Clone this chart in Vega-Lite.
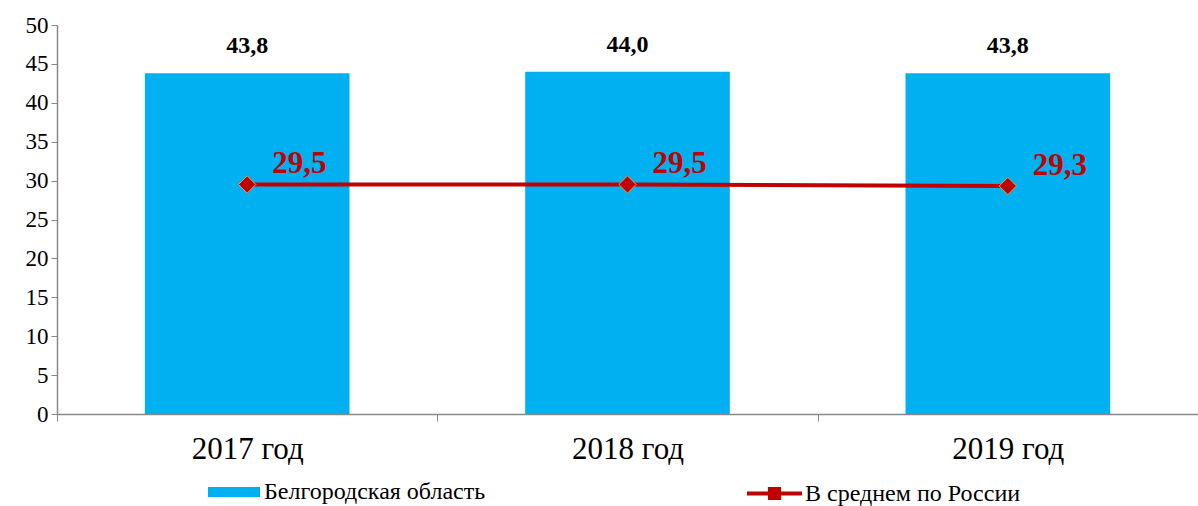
{
  "$schema": "https://vega.github.io/schema/vega-lite/v6.json",
  "width": 1141,
  "height": 389,
  "autosize": {"type": "none"},
  "padding": {"left": 57, "top": 25, "right": 0, "bottom": 92},
  "config": {
    "view": {"stroke": null},
    "font": "Liberation Serif",
    "axisY": {
      "grid": false, "labelOverlap": false, "labelFontSize": 23, "labelColor": "#000", "labelFont": "Liberation Serif",
      "tickSize": 6, "tickColor": "#888", "domainColor": "#888", "domainWidth": 1.5, "labelPadding": 3, "title": null
    },
    "locale": {"number": {"decimal": ",", "thousands": " ", "grouping": [3], "currency": ["", " ₽"]}}
  },
  "data": {
    "values": [
      {"year": "2017 год", "belgorod": 43.8, "russia": 29.5},
      {"year": "2018 год", "belgorod": 44.0, "russia": 29.5},
      {"year": "2019 год", "belgorod": 43.8, "russia": 29.3}
    ]
  },
  "encoding": {
    "x": {
      "field": "year", "type": "nominal", "title": null,
      "scale": {"paddingInner": 0.462, "paddingOuter": 0.231},
      "axis": {
        "labelAngle": 0, "labelFontSize": 31, "labelColor": "#000", "labelFont": "Liberation Serif",
        "labelPadding": 13, "tickOffset": -190.17, "labelOffset": 190.17, "tickSize": 7, "tickColor": "#888",
        "domainColor": "#888", "domainWidth": 1.5
      }
    }
  },
  "layer": [
    {
      "mark": {"type": "bar"},
      "encoding": {
        "y": {
          "field": "belgorod", "type": "quantitative", "title": null,
          "scale": {"domain": [0, 50]},
          "axis": {"values": [0, 5, 10, 15, 20, 25, 30, 35, 40, 45, 50]}
        },
        "fill": {
          "datum": "Белгородская область", "type": "nominal",
          "scale": {"range": ["#00B0F0"]},
          "legend": {
            "title": null, "orient": "none", "legendX": 151, "legendY": 441,
            "symbolType": "M-1,-0.19H1V0.19H-1Z", "symbolSize": 2704,
            "symbolStrokeWidth": 0, "labelFontSize": 24, "labelFont": "Liberation Serif",
            "labelColor": "#000", "labelOffset": 4, "labelLimit": 400
          }
        }
      }
    },
    {
      "mark": {"type": "text", "dy": -27, "fontSize": 24, "fontWeight": "bold", "color": "#000", "font": "Liberation Serif"},
      "encoding": {
        "y": {"field": "belgorod", "type": "quantitative", "title": null, "scale": {"domain": [0, 50]}, "axis": {"values": [0, 5, 10, 15, 20, 25, 30, 35, 40, 45, 50]}},
        "text": {"field": "belgorod", "type": "quantitative", "format": ".1f"}
      }
    },
    {
      "mark": {"type": "line", "strokeWidth": 4},
      "encoding": {
        "y": {"field": "russia", "type": "quantitative", "title": null, "scale": {"domain": [0, 50]}, "axis": {"values": [0, 5, 10, 15, 20, 25, 30, 35, 40, 45, 50]}},
        "stroke": {
          "datum": "В среднем по России", "type": "nominal",
          "scale": {"range": ["#C00000"]},
          "legend": {
            "title": null, "orient": "none", "legendX": 690, "legendY": 441,
            "symbolType": "M-1,-0.073H-0.24V-0.24H0.24V-0.073H1V0.073H0.24V0.24H-0.24V0.073H-1Z",
            "symbolSize": 3025, "symbolFillColor": "#C00000", "symbolStrokeColor": "#C00000",
            "symbolStrokeWidth": 0, "labelFontSize": 24, "labelFont": "Liberation Serif",
            "labelColor": "#000", "labelOffset": 3, "labelLimit": 400
          }
        }
      }
    },
    {
      "mark": {"type": "point", "shape": "diamond", "size": 300, "filled": true, "fill": "#C00000", "stroke": "#E8A040", "strokeWidth": 1, "opacity": 1},
      "encoding": {
        "y": {"field": "russia", "type": "quantitative", "title": null, "scale": {"domain": [0, 50]}, "axis": {"values": [0, 5, 10, 15, 20, 25, 30, 35, 40, 45, 50]}}
      }
    },
    {
      "mark": {"type": "text", "align": "left", "dx": 25, "dy": -20, "fontSize": 31, "fontWeight": "bold", "color": "#C00000", "font": "Liberation Serif"},
      "encoding": {
        "y": {"field": "russia", "type": "quantitative", "title": null, "scale": {"domain": [0, 50]}, "axis": {"values": [0, 5, 10, 15, 20, 25, 30, 35, 40, 45, 50]}},
        "text": {"field": "russia", "type": "quantitative", "format": ".1f"}
      }
    }
  ]
}
